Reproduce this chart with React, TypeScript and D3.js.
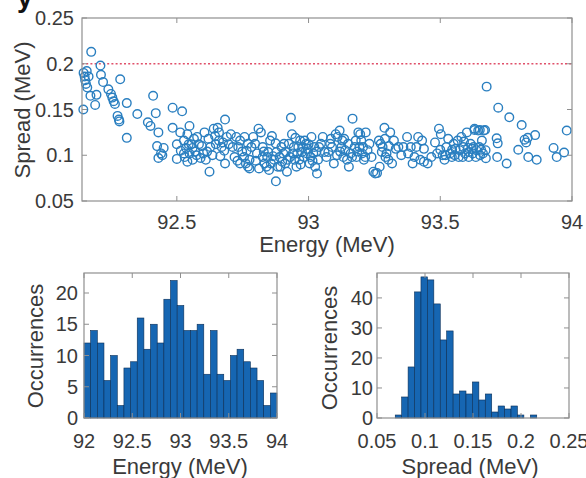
import React from "react";
import * as d3 from "d3";

// ---------- Data ----------
const scatterPoints: [number, number][] = [
  // 92.14 - 92.45
  [92.145,0.150],[92.146,0.190],[92.150,0.186],[92.152,0.182],[92.155,0.178],[92.158,0.192],[92.160,0.174],[92.165,0.186],
  [92.175,0.213],[92.172,0.165],[92.190,0.155],[92.195,0.166],[92.21,0.198],[92.212,0.188],[92.22,0.180],[92.24,0.172],
  [92.25,0.167],[92.255,0.163],[92.26,0.159],[92.265,0.156],[92.285,0.183],[92.275,0.143],[92.28,0.139],[92.282,0.137],
  [92.31,0.157],[92.31,0.119],[92.35,0.145],[92.39,0.136],[92.40,0.132],[92.41,0.165],[92.42,0.146],[92.43,0.125],
  [92.425,0.110],[92.43,0.097],[92.44,0.102],[92.445,0.100],[92.45,0.108],
  // 92.45 - 92.7
  [92.484,0.152],[92.52,0.148],[92.484,0.130],[92.50,0.096],[92.513,0.125],[92.527,0.116],[92.54,0.123],[92.548,0.132],
  [92.555,0.112],[92.548,0.102],[92.527,0.102],[92.56,0.095],[92.54,0.093],[92.57,0.104],[92.60,0.102],[92.605,0.125],
  [92.62,0.118],[92.624,0.082],[92.64,0.129],[92.655,0.130],[92.67,0.109],[92.683,0.139],[92.683,0.091],[92.66,0.116],
  [92.675,0.114],[92.697,0.112],[92.648,0.112],[92.627,0.109],[92.584,0.112],[92.577,0.120],[92.50,0.112],[92.515,0.105],
  [92.535,0.108],[92.565,0.118],[92.59,0.097],[92.615,0.104],[92.635,0.100],[92.665,0.099],[92.69,0.120],
  [92.53,0.098],[92.545,0.112],[92.56,0.108],[92.575,0.100],[92.595,0.110],[92.61,0.095],[92.645,0.121],[92.66,0.125],
  [92.68,0.105],
  // 92.7 - 93.05
  [92.712,0.109],[92.726,0.120],[92.74,0.116],[92.748,0.104],[92.755,0.098],[92.762,0.091],[92.77,0.0875],[92.776,0.095],
  [92.783,0.109],[92.79,0.120],[92.797,0.1125],[92.81,0.129],[92.819,0.125],[92.826,0.098],[92.833,0.091],[92.84,0.0875],
  [92.847,0.1035],[92.854,0.116],[92.861,0.121],[92.869,0.095],[92.876,0.0715],[92.883,0.0875],[92.89,0.098],[92.897,0.109],
  [92.904,0.102],[92.911,0.091],[92.918,0.082],[92.925,0.1125],[92.933,0.141],[92.937,0.123],[92.94,0.102],[92.947,0.095],
  [92.954,0.0875],[92.961,0.109],[92.968,0.116],[92.975,0.1035],[92.982,0.098],[92.99,0.1125],[92.997,0.107],[93.004,0.091],
  [93.011,0.120],[93.018,0.102],[93.025,0.0875],[93.032,0.080],[93.04,0.109],[93.047,0.1125],
  [92.719,0.098],[92.733,0.109],[92.77,0.1125],[92.804,0.102],[92.826,0.109],[92.843,0.098],[92.857,0.091],[92.878,0.1035],
  [92.893,0.0875],[92.907,0.1125],[92.914,0.1035],[92.921,0.095],[92.944,0.109],[92.957,0.102],[92.965,0.095],[92.979,0.109],
  [92.994,0.102],[93.008,0.098],[93.022,0.109],[93.036,0.095],[92.85,0.084],[92.812,0.0855],[92.776,0.0855],[92.74,0.091],
  [92.757,0.120],[92.705,0.123],
  [92.73,0.094],[92.765,0.105],[92.80,0.094],[92.83,0.104],[92.865,0.099],[92.875,0.113],[92.90,0.093],[92.93,0.098],
  [92.95,0.119],[92.97,0.090],[92.985,0.116],[93.0,0.112],[93.015,0.094],[93.03,0.104],
  // 93.05 - 93.35
  [93.054,0.120],[93.061,0.1035],[93.068,0.098],[93.082,0.1125],[93.096,0.091],[93.103,0.123],[93.11,0.120],[93.118,0.127],
  [93.125,0.109],[93.132,0.098],[93.139,0.1055],[93.146,0.095],[93.153,0.0875],[93.16,0.102],[93.167,0.140],[93.175,0.109],
  [93.182,0.098],[93.189,0.125],[93.196,0.123],[93.203,0.102],[93.21,0.095],[93.217,0.125],[93.224,0.1055],[93.239,0.098],
  [93.246,0.082],[93.253,0.080],[93.26,0.0805],[93.267,0.116],[93.274,0.1125],[93.281,0.109],[93.288,0.130],[93.296,0.102],
  [93.303,0.095],[93.31,0.125],[93.317,0.091],[93.324,0.116],[93.331,0.107],[93.341,0.109],
  [93.075,0.1035],[93.089,0.109],[93.108,0.100],[93.128,0.116],[93.15,0.1125],[93.179,0.116],[93.193,0.109],[93.207,0.109],
  [93.231,0.1125],[93.278,0.1035],[93.292,0.098],[93.27,0.0875],
  [93.085,0.118],[93.12,0.104],[93.135,0.118],[93.165,0.098],[93.185,0.104],[93.2,0.116],[93.215,0.098],[93.29,0.118],
  [93.305,0.110],
  // 93.35 - 93.7
  [93.352,0.100],[93.36,0.109],[93.374,0.120],[93.388,0.109],[93.395,0.091],[93.416,0.120],[93.424,0.095],[93.438,0.093],
  [93.452,0.091],[93.438,0.107],[93.48,0.114],[93.495,0.129],[93.502,0.123],[93.509,0.100],[93.516,0.095],[93.523,0.109],
  [93.53,0.118],[93.537,0.102],[93.544,0.098],[93.551,0.1125],[93.566,0.116],[93.573,0.1055],[93.58,0.120],[93.587,0.109],
  [93.594,0.102],[93.601,0.125],[93.608,0.1035],[93.615,0.1125],[93.623,0.102],[93.63,0.129],[93.637,0.1055],[93.644,0.127],
  [93.651,0.100],[93.658,0.116],[93.665,0.127],[93.672,0.1055],
  [93.378,0.102],[93.402,0.098],[93.466,0.098],[93.488,0.102],[93.558,0.107],[93.585,0.098],[93.608,0.098],[93.626,0.109],
  [93.648,0.109],[93.662,0.102],[93.409,0.109],[93.431,0.116],
  [93.545,0.106],[93.555,0.100],[93.57,0.098],[93.59,0.115],[93.605,0.108],[93.62,0.107],[93.635,0.098],[93.655,0.106],
  [93.50,0.106],[93.52,0.100],
  // 93.7 - 94
  [93.676,0.175],[93.72,0.152],[93.762,0.1415],[93.809,0.133],[93.86,0.122],[93.98,0.127],[93.93,0.108],[93.942,0.098],
  [93.97,0.103],[93.82,0.117],[93.826,0.114],[93.832,0.119],[93.796,0.106],[93.834,0.098],[93.866,0.095],[93.752,0.091],
  [93.716,0.098],[93.714,0.1185],[93.718,0.113],[93.673,0.0967],[93.67,0.1276],[93.65,0.1276],[93.63,0.1276],
];

const thresholdSpread = 0.2;

const energyBinStart = 92;
const energyBinWidth = 2 / 29;
const energyCounts = [12,14,12,6,10,2,8,9,16,11,15,12,19,22,18,14,14,15,7,14,7,6,10,11,9,8,6,2,4];

const spreadBinStart = 0.069;
const spreadBinWidth = 0.0067;
const spreadCounts = [1,7,17,42,47,46,38,26,29,8,9,8,12,6,8,2,4,3,4,1,0,1];

const topXTicks = [92.5, 93, 93.5, 94];
const topYTicks = [0.05, 0.1, 0.15, 0.2, 0.25];
const energyXTicks = [92, 92.5, 93, 93.5, 94];
const energyYTicks = [0, 5, 10, 15, 20];
const spreadXTicks = [0.05, 0.1, 0.15, 0.2, 0.25];
const spreadYTicks = [0, 10, 20, 30, 40];

// ---------- Style ----------
const FONT = "'Liberation Sans', Arial, Helvetica, sans-serif";
const TEXT = "#3a3a3a";
const AXIS = "#8f8f8f";
const TICK_FS = 20;
const LABEL_FS = 22;
const TL = 5;

const fmt = (v: number) => String(+v.toFixed(3));

type AxProps = {
  x: d3.ScaleLinear<number, number>;
  y: d3.ScaleLinear<number, number>;
  xt: number[];
  yt: number[];
  xLabelY: number;
  yLabelRight: number;
};

function Frame({ x, y, xt, yt, xLabelY, yLabelRight }: AxProps) {
  const [x0, x1] = x.range();
  const [y0, y1] = y.range(); // y0 bottom, y1 top
  return (
    <g>
      <rect x={x0} y={y1} width={x1 - x0} height={y0 - y1} fill="none" stroke={AXIS} strokeWidth={1.2} />
      {xt.map((t) => (
        <g key={"x" + t}>
          <line x1={x(t)} x2={x(t)} y1={y0} y2={y0 - TL} stroke={AXIS} />
          <line x1={x(t)} x2={x(t)} y1={y1} y2={y1 + TL} stroke={AXIS} />
          <text x={x(t)} y={xLabelY} textAnchor="middle" fontSize={TICK_FS} fill={TEXT} fontFamily={FONT}>
            {fmt(t)}
          </text>
        </g>
      ))}
      {yt.map((t) => (
        <g key={"y" + t}>
          <line x1={x0} x2={x0 + TL} y1={y(t)} y2={y(t)} stroke={AXIS} />
          <line x1={x1} x2={x1 - TL} y1={y(t)} y2={y(t)} stroke={AXIS} />
          <text x={yLabelRight} y={y(t)} dy="0.36em" textAnchor="end" fontSize={TICK_FS} fill={TEXT} fontFamily={FONT}>
            {fmt(t)}
          </text>
        </g>
      ))}
    </g>
  );
}

export default function App() {
  const xTop = d3.scaleLinear().domain([92.14, 94]).range([82, 572]);
  const yTop = d3.scaleLinear().domain([0.05, 0.25]).range([201, 18]);

  const xE = d3.scaleLinear().domain([92, 94]).range([84, 277]);
  const yE = d3.scaleLinear().domain([0, 23.2]).range([418, 273]);

  const xS = d3.scaleLinear().domain([0.05, 0.25]).range([377, 569]);
  const yS = d3.scaleLinear().domain([0, 48.3]).range([418, 273]);

  const barFill = "#1666b2";
  const barStroke = "#0b2f57";

  return (
    <svg width={586} height={478} style={{ display: "block", position: "absolute", left: 0, top: 0 }}>
      <rect width={586} height={478} fill="#ffffff" />
      {/* cut-off panel letter at top-left */}
      <text x={17} y={7} fontSize={28} fontWeight="bold" fill="#111" fontFamily={FONT}>y</text>

      {/* ---- Top scatter ---- */}
      <line
        x1={xTop(92.14)} x2={xTop(94)} y1={yTop(thresholdSpread)} y2={yTop(thresholdSpread)}
        stroke="#e0506a" strokeWidth={1.6} strokeDasharray="2,2.2"
      />
      {scatterPoints.map(([e, s], i) => (
        <circle key={i} cx={xTop(e)} cy={yTop(s)} r={4.3} fill="none" stroke="#2a7fc0" strokeWidth={1.4} />
      ))}
      <Frame x={xTop} y={yTop} xt={topXTicks} yt={topYTicks} xLabelY={229} yLabelRight={74} />
      <text x={327} y={252} textAnchor="middle" fontSize={LABEL_FS} fill={TEXT} fontFamily={FONT}>Energy (MeV)</text>
      <text transform={`translate(30,110) rotate(-90)`} textAnchor="middle" fontSize={LABEL_FS} fill={TEXT} fontFamily={FONT}>
        Spread (MeV)
      </text>

      {/* ---- Energy histogram ---- */}
      {energyCounts.map((c, i) => {
        const a = energyBinStart + i * energyBinWidth;
        const b = a + energyBinWidth;
        return (
          <rect key={i} x={xE(a)} y={yE(c)} width={xE(b) - xE(a)} height={yE(0) - yE(c)}
            fill={barFill} stroke={barStroke} strokeWidth={0.6} />
        );
      })}
      <Frame x={xE} y={yE} xt={energyXTicks} yt={energyYTicks} xLabelY={448} yLabelRight={78} />
      <text x={180} y={474} textAnchor="middle" fontSize={LABEL_FS} fill={TEXT} fontFamily={FONT}>Energy (MeV)</text>
      <text transform={`translate(43,346) rotate(-90)`} textAnchor="middle" fontSize={LABEL_FS} fill={TEXT} fontFamily={FONT}>
        Occurrences
      </text>

      {/* ---- Spread histogram ---- */}
      {spreadCounts.map((c, i) => {
        const a = spreadBinStart + i * spreadBinWidth;
        const b = a + spreadBinWidth;
        return c > 0 ? (
          <rect key={i} x={xS(a)} y={yS(c)} width={xS(b) - xS(a)} height={yS(0) - yS(c)}
            fill={barFill} stroke={barStroke} strokeWidth={0.6} />
        ) : null;
      })}
      <Frame x={xS} y={yS} xt={spreadXTicks} yt={spreadYTicks} xLabelY={448} yLabelRight={373} />
      <text x={470} y={474} textAnchor="middle" fontSize={LABEL_FS} fill={TEXT} fontFamily={FONT}>Spread (MeV)</text>
      <text transform={`translate(337,348) rotate(-90)`} textAnchor="middle" fontSize={LABEL_FS} fill={TEXT} fontFamily={FONT}>
        Occurrences
      </text>
    </svg>
  );
}
